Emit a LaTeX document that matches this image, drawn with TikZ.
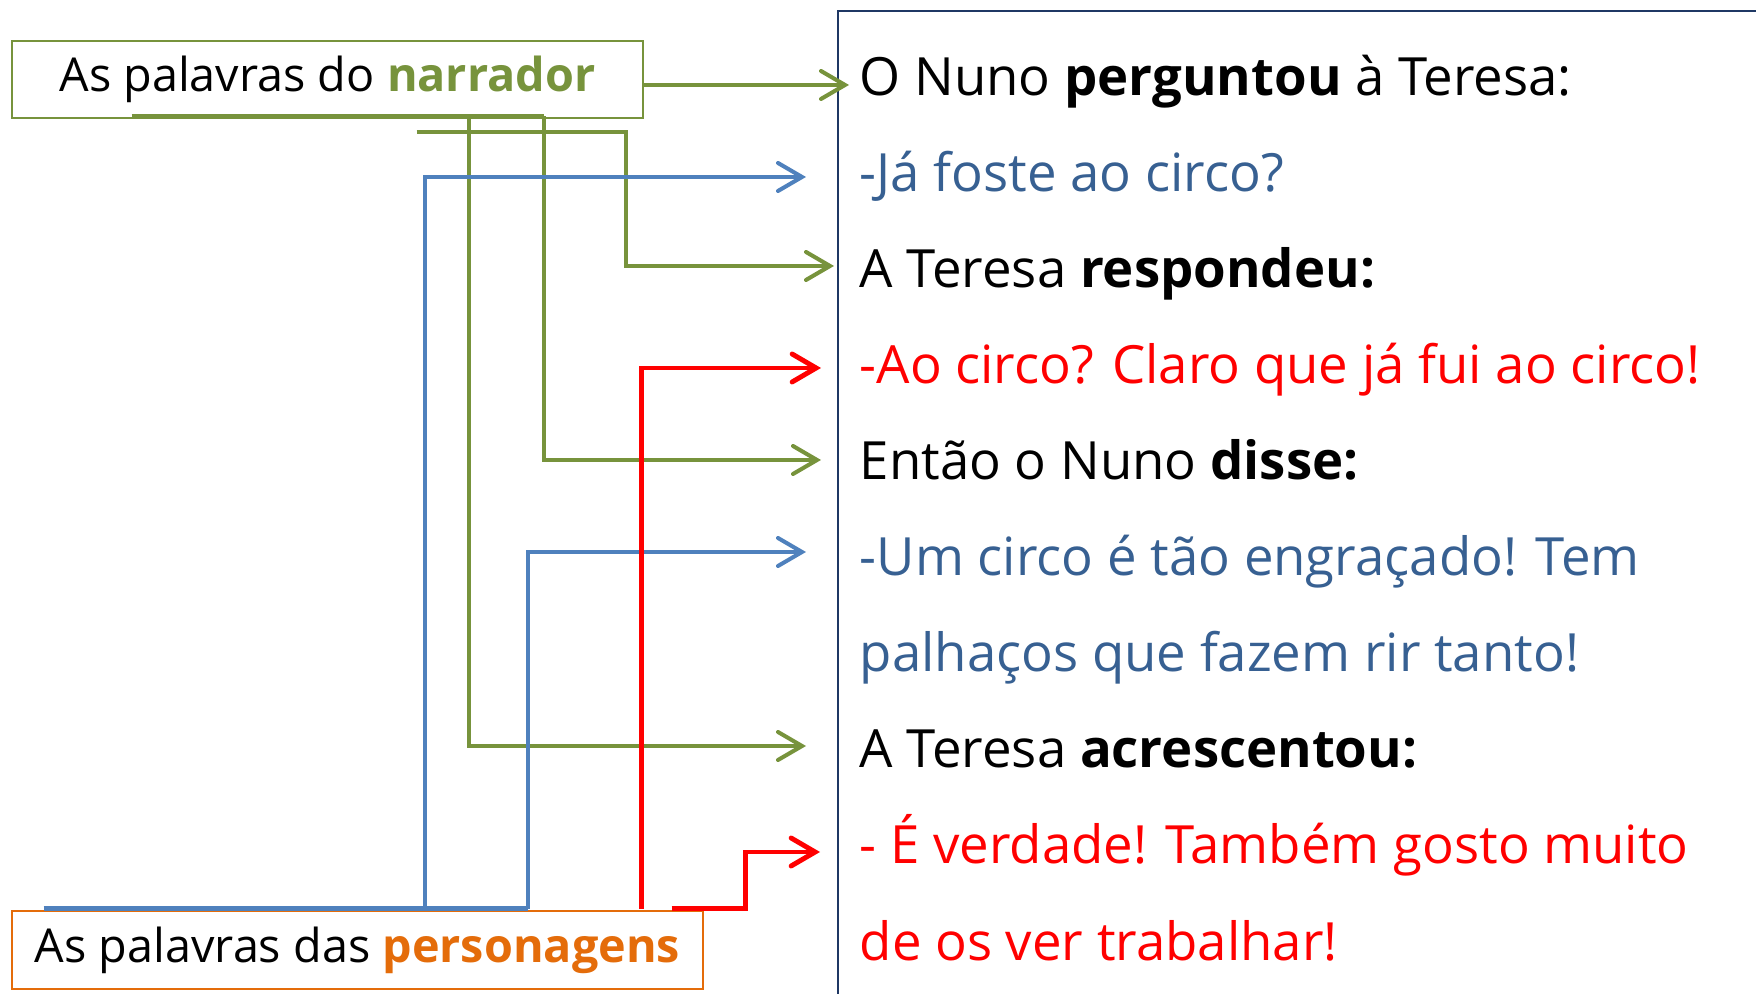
\documentclass[tikz,border=0pt]{standalone}
\usepackage{fontspec}
\setmainfont{Open Sans}
\usetikzlibrary{calc}
\usetikzlibrary{positioning}
\usetikzlibrary{arrows.meta}
\definecolor{narrgreen}{HTML}{77933C}
\definecolor{persblue}{HTML}{4F81BD}
\definecolor{speechblue}{HTML}{376092}
\definecolor{persorange}{HTML}{E46C0A}
\definecolor{framenavy}{HTML}{1F3864}
\tikzstyle{labelbox} = [draw, line width=0.8pt, inner sep=0pt, font=\fontsize{13.3}{16}\selectfont]
\tikzstyle{storyline} = [anchor=base west, inner sep=0pt, font=\fontsize{15}{18}\selectfont]
\tikzstyle{link} = [line width=1.15pt, -{Straight Barb[length=2.4mm,width=2.8mm,line cap=round]}]

\begin{document}
\begin{tikzpicture}
    \useasboundingbox (0,0) rectangle (17.56,9.94);
    % frame round the story
    \draw[framenavy, line width=0.6pt] (8.38,0) -- (8.38,9.83) -- (17.56,9.83);

    \node[labelbox, draw=narrgreen, minimum width=6.31cm, minimum height=0.77cm] (narr) at (3.275,9.145) {As palavras do \textbf{\color{narrgreen}narrador}};
    \node[labelbox, draw=persorange, minimum width=6.91cm, minimum height=0.78cm] (pers) at (3.575,0.44) {As palavras das \textbf{\color{persorange}personagens}};

    \node[storyline] (l1) at (8.59,8.98) {O Nuno \textbf{perguntou} à Teresa:};
    \node[storyline, speechblue] (l2) at ($(l1.base west)+(0,-0.96)$) {-Já foste ao circo?};
    \node[storyline] (l3) at ($(l2.base west)+(0,-0.96)$) {A Teresa \textbf{respondeu:}};
    \node[storyline, red] (l4) at ($(l3.base west)+(0,-0.96)$) {-Ao circo? Claro que já fui ao circo!};
    \node[storyline] (l5) at ($(l4.base west)+(0,-0.96)$) {Então o Nuno \textbf{disse:}};
    \node[storyline, speechblue] (l6) at ($(l5.base west)+(0,-0.96)$) {-Um circo é tão engraçado! Tem};
    \node[storyline, speechblue] (l7) at ($(l6.base west)+(0,-0.96)$) {palhaços que fazem rir tanto!};
    \node[storyline] (l8) at ($(l7.base west)+(0,-0.96)$) {A Teresa \textbf{acrescentou:}};
    \node[storyline, red] (l9) at ($(l8.base west)+(0,-0.96)$) {- É verdade! Também gosto muito};
    \node[storyline, red] (l10) at ($(l9.base west)+(0,-0.96)$) {de os ver trabalhar!};

    \coordinate (tip1) at ($(l1.base west)+(-0.10,0.11)$);
    \coordinate (tip2) at ($(l2.base west)+(-0.53,0.15)$);
    \coordinate (tip3) at ($(l3.base west)+(-0.25,0.22)$);
    \coordinate (tip4) at ($(l4.base west)+(-0.38,0.16)$);
    \coordinate (tip5) at ($(l5.base west)+(-0.38,0.20)$);
    \coordinate (tip6) at ($(l6.base west)+(-0.53,0.24)$);
    \coordinate (tip8) at ($(l8.base west)+(-0.53,0.22)$);
    \coordinate (tip9) at ($(l9.base west)+(-0.39,0.12)$);

    % narrator links
    \coordinate (nb) at ($(narr.south west)+(1.21,0.03)$);
    \coordinate (nv1) at ($(narr.south west)+(4.58,0.03)$);
    \coordinate (nv2) at ($(narr.south west)+(5.33,0.03)$);
    \coordinate (nc) at ($(narr.south west)+(4.06,-0.13)$);
    \draw[link, narrgreen] (narr.east |- tip1) -- (tip1);
    \draw[narrgreen, line width=1.5pt] (nb) -- (nv2);
    \draw[link, narrgreen] (nc) -- ++(2.09,0) |- (tip3);
    \draw[link, narrgreen] (nv2) |- (tip5);
    \draw[link, narrgreen] (nv1) |- (tip8);

    % character links
    \coordinate (pb) at ($(pers.north west)+(0.33,0.01)$);
    \coordinate (pv1) at ($(pers.north west)+(4.14,0.01)$);
    \coordinate (pv2) at ($(pers.north west)+(5.17,0.01)$);
    \coordinate (pr1) at ($(pers.north west)+(6.31,0.01)$);
    \coordinate (pr2) at ($(pers.north west)+(6.61,0.01)$);
    \draw[persblue, line width=1.3pt] (pb) -- (pv2);
    \draw[link, persblue] (pv1) |- (tip2);
    \draw[link, persblue] (pv2) |- (tip6);
    \draw[link, red, line width=1.4pt] (pr1) |- (tip4);
    \draw[link, red, line width=1.4pt] (pr2) -- ++(0.74,0) |- (tip9);
\end{tikzpicture}
\end{document}
